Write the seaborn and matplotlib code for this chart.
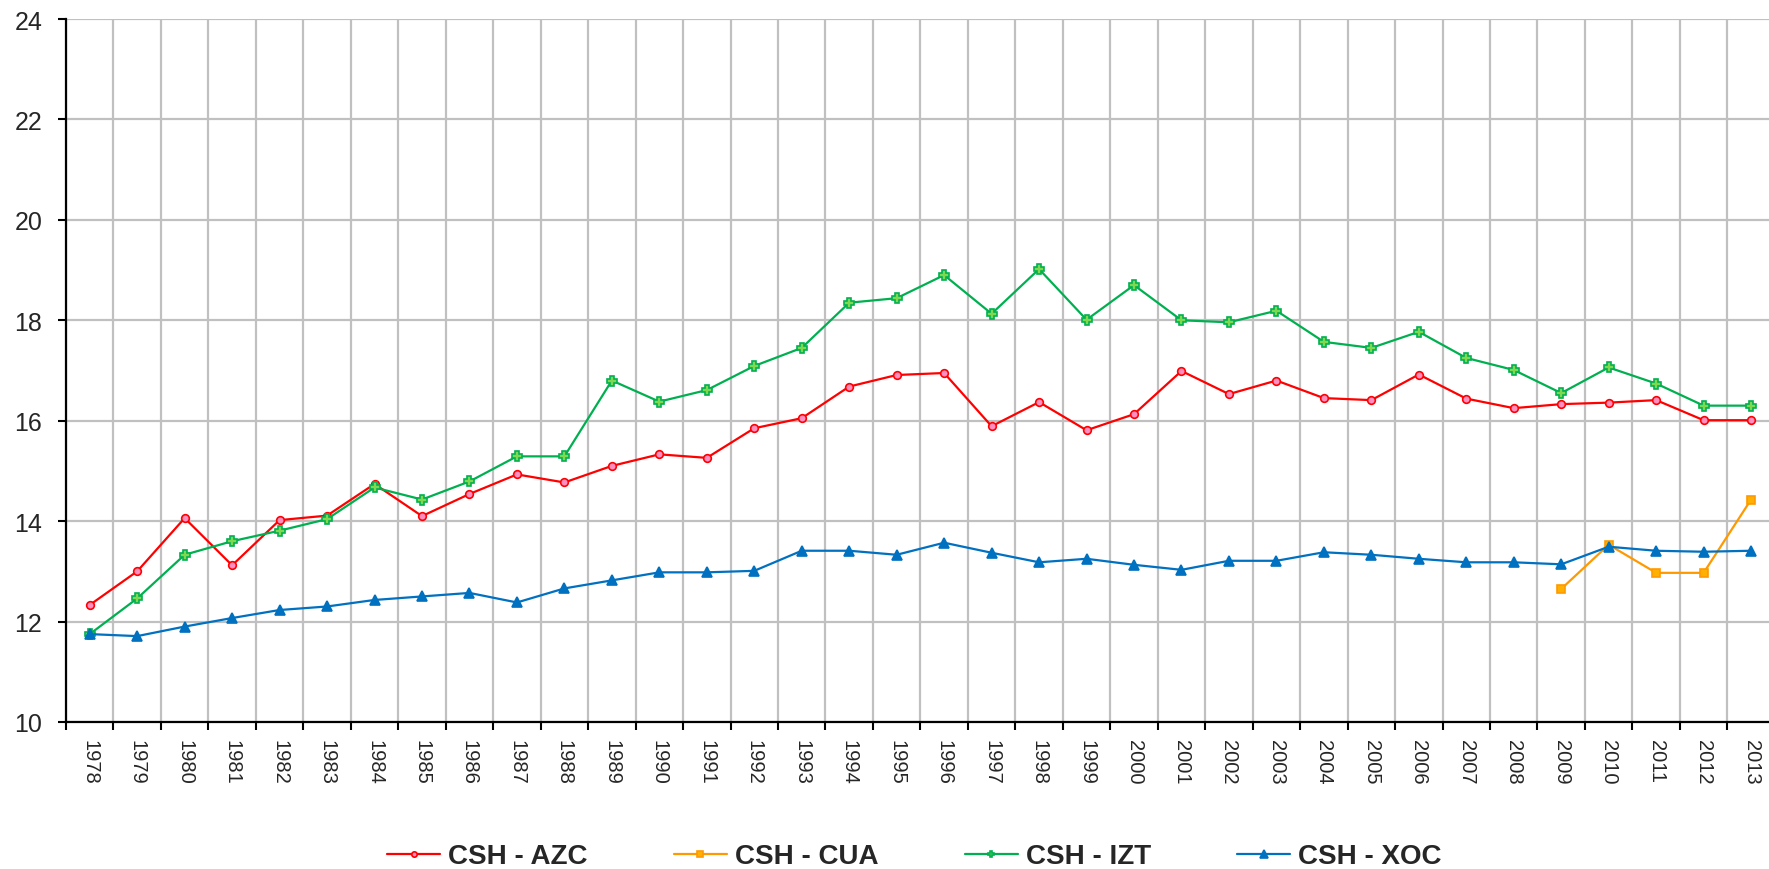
import numpy as np
import pandas as pd
import matplotlib.pyplot as plt
import seaborn as sns

# datos
years = list(range(1978, 2014))
azc = [12.33, 13.00, 14.06, 13.12, 14.02, 14.11, 14.74, 14.10, 14.54, 14.93,
       14.77, 15.10, 15.33, 15.26, 15.85, 16.05, 16.68, 16.91, 16.95, 15.89,
       16.37, 15.81, 16.13, 16.99, 16.53, 16.80, 16.45, 16.41, 16.92, 16.44,
       16.25, 16.33, 16.36, 16.41, 16.01, 16.01]
cua = [np.nan] * 31 + [12.65, 13.53, 12.97, 12.97, 14.43]
izt = [11.75, 12.46, 13.33, 13.60, 13.81, 14.04, 14.67, 14.43, 14.79, 15.29,
       15.29, 16.80, 16.38, 16.61, 17.09, 17.45, 18.35, 18.44, 18.90, 18.13,
       19.02, 18.01, 18.70, 18.00, 17.96, 18.19, 17.57, 17.45, 17.77, 17.25,
       17.01, 16.55, 17.06, 16.74, 16.30, 16.30]
xoc = [11.75, 11.71, 11.90, 12.07, 12.23, 12.30, 12.43, 12.50, 12.57, 12.38,
       12.66, 12.82, 12.98, 12.98, 13.01, 13.41, 13.41, 13.33, 13.57, 13.37,
       13.18, 13.25, 13.13, 13.03, 13.21, 13.21, 13.38, 13.33, 13.25, 13.18,
       13.18, 13.14, 13.49, 13.41, 13.39, 13.41]

df = pd.DataFrame({'Año': years, 'CSH - AZC': azc, 'CSH - CUA': cua,
                   'CSH - IZT': izt, 'CSH - XOC': xoc})
long = df.melt(id_vars='Año', var_name='Serie', value_name='Valor').dropna()

sns.set_style('white')
plt.rcParams['font.family'] = ['Liberation Sans', 'DejaVu Sans']

fig = plt.figure(figsize=(17.69, 8.70), dpi=100)
ax = fig.add_axes([0.0373, 0.169, 0.966, 0.808])

# color, marcador, relleno, tamaño
estilos = {
    'CSH - AZC': ('#FF0000', 'o', '#FF8FC0', 5.5),
    'CSH - CUA': ('#FF9900', 's', '#FFB000', 5.5),
    'CSH - IZT': ('#00B050', 'P', '#7FD84F', 6.5),
    'CSH - XOC': ('#0070C0', '^', '#0070C0', 7.5),
}
for i, (serie, (col, mk, face, ms)) in enumerate(estilos.items()):
    sns.lineplot(data=long[long['Serie'] == serie], x='Año', y='Valor',
                 color=col, marker=mk, markerfacecolor=face, markeredgecolor=col,
                 markeredgewidth=1.2, markersize=ms, linewidth=1.6,
                 label=serie, ax=ax, zorder=3 + i)

ax.set_xlim(1977.5, 2013.5)
ax.set_ylim(10, 24)
ax.set_yticks(range(10, 25, 2))
ax.set_xlabel('')
ax.set_ylabel('')

# ticks mayores en los bordes de categoría, etiquetas en el centro
ax.set_xticks([y - 0.5 for y in years] + [2013.5])
ax.set_xticklabels([])
ax.set_xticks(years, minor=True)
ax.set_xticklabels([str(y) for y in years], minor=True, rotation=270, fontsize=14.5)
ax.tick_params(axis='x', which='major', direction='out', length=6, width=1.5,
               color='black', bottom=True)
ax.tick_params(axis='x', which='minor', length=0, pad=12)
ax.tick_params(axis='y', direction='out', length=6, width=1.5, color='black',
               left=True, labelsize=18, pad=11)

ax.grid(True, which='major', color='#C0C0C0', linewidth=1.6)
ax.set_axisbelow(True)
for s in ['top', 'right']:
    ax.spines[s].set_visible(False)
for s in ['left', 'bottom']:
    ax.spines[s].set_color('black')
    ax.spines[s].set_linewidth(1.6)
    ax.spines[s].set_zorder(10)

handles, labels = ax.get_legend_handles_labels()
ax.get_legend().remove()
leg = fig.legend(handles, labels, loc='center', bbox_to_anchor=(0.517, 0.0145),
                 ncol=4, frameon=False, handlelength=1.9, handletextpad=0.3,
                 columnspacing=3.1, markerscale=0.7,
                 prop={'weight': 'bold', 'size': 20})

fig.savefig('out.png', dpi=100)
